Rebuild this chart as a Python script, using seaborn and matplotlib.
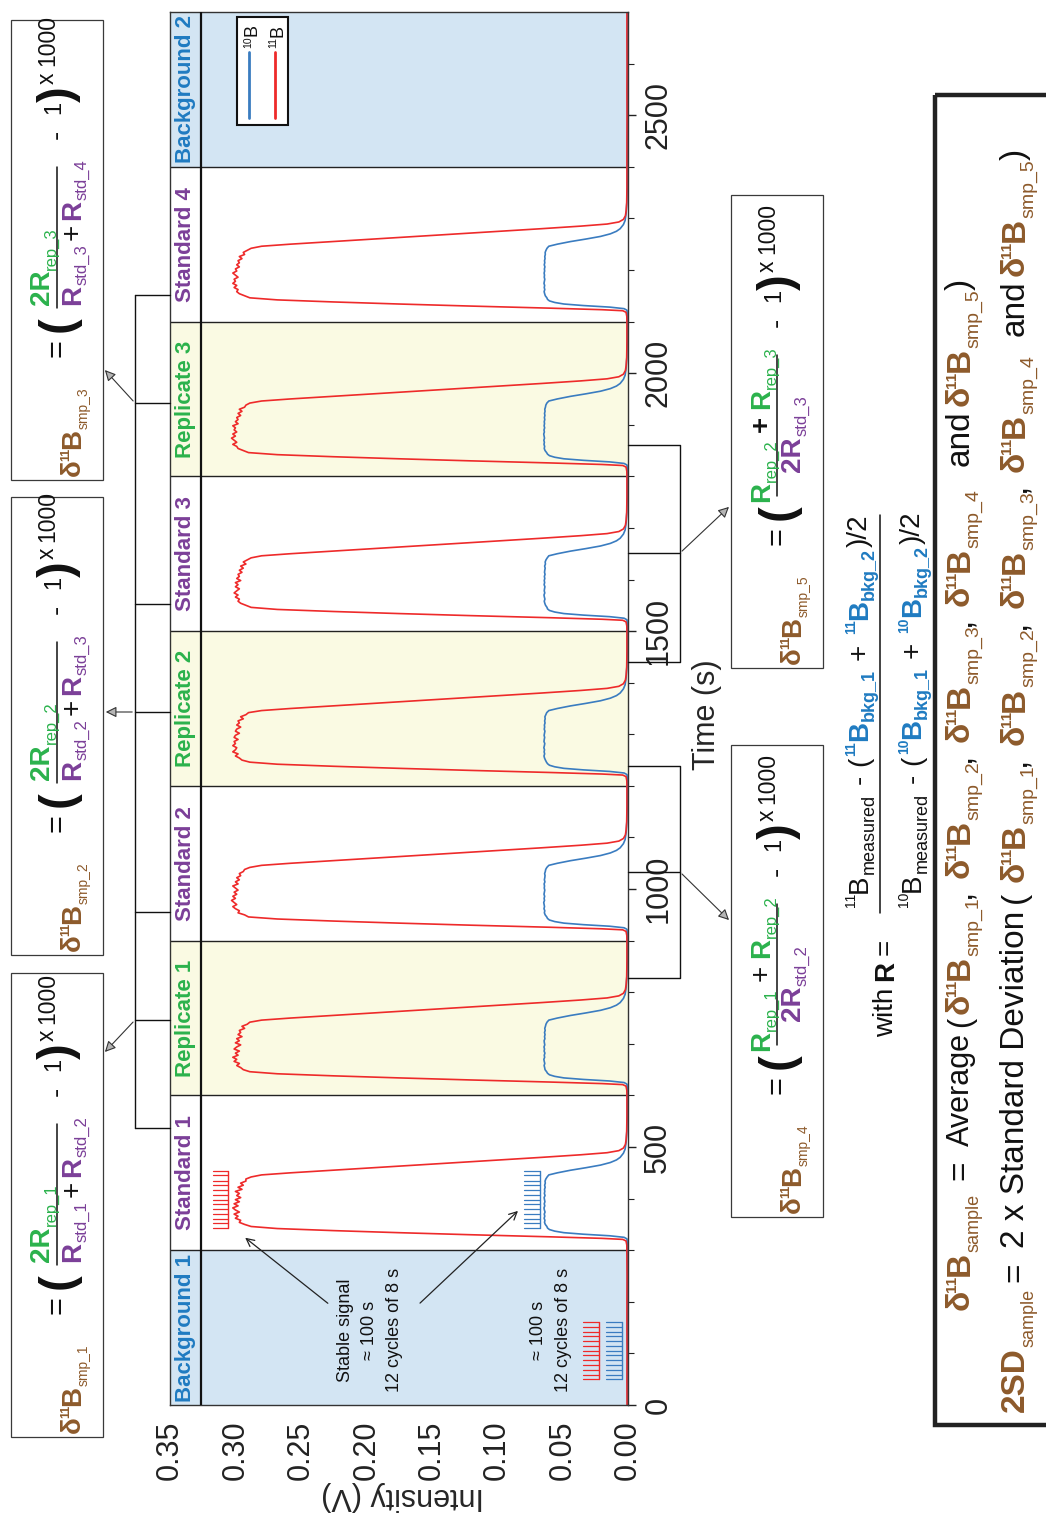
import numpy as np
import pandas as pd
import matplotlib
matplotlib.use('Agg')
import matplotlib.pyplot as plt
import seaborn as sns
from matplotlib.font_manager import FontProperties
from matplotlib.patches import Rectangle

# ---------------- data ----------------
segment_names = ['Background 1', 'Standard 1', 'Replicate 1', 'Standard 2', 'Replicate 2',
                 'Standard 3', 'Replicate 3', 'Standard 4', 'Background 2']
segment_starts = [0, 300, 600, 900, 1200, 1500, 1800, 2100, 2400]
segment_length = 300

# time offsets (s) inside a measurement segment
rise_t_red = [0, 10, 18, 21, 23, 26, 30, 34, 38, 42]
rise_v_red = [0.0008, 0.0009, 0.0015, 0.004, 0.02, 0.06, 0.12, 0.175, 0.225, 0.268]
fall_t_red = [146, 150, 155, 160, 165, 170, 175, 180, 185, 189, 193, 198, 205, 215, 230, 260]
fall_v_red = [0.280, 0.258, 0.226, 0.194, 0.162, 0.130, 0.098, 0.066, 0.036, 0.016, 0.007,
              0.0035, 0.002, 0.0014, 0.001, 0.0008]
rise_t_blue = [0, 10, 22, 25, 28, 31, 34, 37, 40, 43]
rise_v_blue = [0.0005, 0.0005, 0.0008, 0.003, 0.014, 0.034, 0.049, 0.056, 0.060, 0.0615]
fall_t_blue = [146, 150, 155, 160, 165, 170, 175, 180, 188, 196, 210, 230, 260]
fall_v_blue = [0.0605, 0.054, 0.044, 0.032, 0.021, 0.0135, 0.0088, 0.006, 0.0035, 0.0022,
               0.0014, 0.0009, 0.0006]
plateau_t = [46, 50, 54, 58, 62, 66, 70, 74, 78, 82, 86, 90, 94, 98, 102, 106, 110, 114,
             118, 122, 126, 130, 134, 138, 142]

red_plateau = {
    'Standard 1': [0.288, 0.293, 0.297, 0.296, 0.300, 0.298, 0.301, 0.297, 0.300, 0.302, 0.298, 0.301, 0.297,
                   0.300, 0.296, 0.299, 0.297, 0.300, 0.295, 0.298, 0.294, 0.296, 0.292, 0.292, 0.288],
    'Replicate 1': [0.289, 0.294, 0.296, 0.299, 0.297, 0.301, 0.299, 0.302, 0.298, 0.300, 0.297, 0.301, 0.299,
                    0.296, 0.300, 0.297, 0.299, 0.295, 0.298, 0.296, 0.297, 0.293, 0.295, 0.291, 0.289],
    'Standard 2': [0.290, 0.293, 0.298, 0.297, 0.300, 0.302, 0.299, 0.301, 0.303, 0.300, 0.302, 0.299, 0.301,
                   0.298, 0.300, 0.302, 0.298, 0.300, 0.297, 0.299, 0.296, 0.297, 0.294, 0.293, 0.289],
    'Replicate 2': [0.289, 0.295, 0.297, 0.300, 0.298, 0.302, 0.300, 0.299, 0.302, 0.300, 0.301, 0.298, 0.301,
                    0.300, 0.297, 0.300, 0.299, 0.296, 0.299, 0.297, 0.298, 0.294, 0.296, 0.292, 0.290],
    'Standard 3': [0.288, 0.292, 0.296, 0.298, 0.297, 0.300, 0.298, 0.301, 0.299, 0.297, 0.300, 0.298, 0.300,
                   0.296, 0.299, 0.297, 0.298, 0.295, 0.297, 0.294, 0.296, 0.292, 0.294, 0.291, 0.288],
    'Replicate 3': [0.290, 0.294, 0.298, 0.299, 0.302, 0.299, 0.301, 0.303, 0.300, 0.302, 0.299, 0.301, 0.300,
                    0.302, 0.298, 0.300, 0.298, 0.299, 0.296, 0.298, 0.295, 0.297, 0.293, 0.292, 0.289],
    'Standard 4': [0.289, 0.293, 0.297, 0.299, 0.298, 0.301, 0.299, 0.302, 0.300, 0.301, 0.298, 0.300, 0.302,
                   0.299, 0.300, 0.297, 0.299, 0.297, 0.298, 0.295, 0.297, 0.293, 0.294, 0.291, 0.288],
}
blue_plateau = {
    'Standard 1': [0.0620, 0.0632, 0.0638, 0.0635, 0.0641, 0.0636, 0.0640, 0.0634, 0.0639, 0.0642, 0.0636, 0.0640,
                   0.0635, 0.0638, 0.0641, 0.0634, 0.0639, 0.0636, 0.0638, 0.0633, 0.0637, 0.0632, 0.0634, 0.0628, 0.0618],
    'Replicate 1': [0.0622, 0.0634, 0.0637, 0.0641, 0.0636, 0.0640, 0.0643, 0.0637, 0.0640, 0.0635, 0.0641, 0.0638,
                    0.0642, 0.0636, 0.0639, 0.0641, 0.0635, 0.0638, 0.0634, 0.0638, 0.0633, 0.0636, 0.0631, 0.0627, 0.0619],
    'Standard 2': [0.0621, 0.0633, 0.0639, 0.0636, 0.0642, 0.0638, 0.0641, 0.0644, 0.0638, 0.0641, 0.0637, 0.0642,
                   0.0639, 0.0636, 0.0640, 0.0638, 0.0641, 0.0635, 0.0639, 0.0636, 0.0634, 0.0637, 0.0632, 0.0629, 0.0620],
    'Replicate 2': [0.0623, 0.0631, 0.0638, 0.0642, 0.0637, 0.0641, 0.0638, 0.0643, 0.0639, 0.0636, 0.0642, 0.0640,
                    0.0637, 0.0641, 0.0638, 0.0635, 0.0640, 0.0637, 0.0639, 0.0634, 0.0637, 0.0633, 0.0635, 0.0628, 0.0621],
    'Standard 3': [0.0619, 0.0630, 0.0636, 0.0640, 0.0635, 0.0639, 0.0642, 0.0636, 0.0640, 0.0638, 0.0635, 0.0641,
                   0.0637, 0.0640, 0.0636, 0.0639, 0.0634, 0.0638, 0.0636, 0.0633, 0.0637, 0.0631, 0.0633, 0.0627, 0.0617],
    'Replicate 3': [0.0622, 0.0634, 0.0640, 0.0637, 0.0642, 0.0639, 0.0643, 0.0638, 0.0641, 0.0644, 0.0639, 0.0642,
                    0.0637, 0.0641, 0.0638, 0.0640, 0.0636, 0.0639, 0.0635, 0.0638, 0.0634, 0.0636, 0.0631, 0.0628, 0.0620],
    'Standard 4': [0.0620, 0.0632, 0.0637, 0.0641, 0.0636, 0.0640, 0.0637, 0.0642, 0.0639, 0.0636, 0.0640, 0.0638,
                   0.0641, 0.0637, 0.0639, 0.0635, 0.0640, 0.0636, 0.0638, 0.0634, 0.0636, 0.0632, 0.0633, 0.0627, 0.0619],
}
bkg_t = [0, 50, 100, 150, 200, 250, 300]
bkg_red = {'Background 1': [0.0007, 0.0008, 0.0007, 0.0008, 0.0008, 0.0007, 0.0008],
           'Background 2': [0.0008, 0.0008, 0.0007, 0.0008, 0.0007, 0.0008, 0.0008]}
bkg_blue = {'Background 1': [0.0004, 0.0005, 0.0004, 0.0005, 0.0004, 0.0005, 0.0005],
            'Background 2': [0.0005, 0.0004, 0.0005, 0.0004, 0.0005, 0.0005, 0.0004]}

# 12 integration cycles drawn as combs (tooth offsets in s)
comb_teeth = [0, 9, 18, 28, 37, 46, 55, 65, 74, 83, 92, 102, 111]

intensity_ticks = [0.00, 0.05, 0.10, 0.15, 0.20, 0.25, 0.30, 0.35]
time_ticks = [0, 500, 1000, 1500, 2000, 2500]

# ---------------- colours ----------------
BROWN = '#8d5a2b'
GREEN = '#2bb24c'
PURPLE = '#7b3f98'
BLUE_T = '#1f7bc1'
RED_L = '#ee2a2a'
BLUE_L = '#3a7cc0'
BKG_FILL = '#d3e5f3'
REP_FILL = '#fafae3'
INK = '#111111'
FONT = ['Liberation Sans', 'DejaVu Sans']

# ---------------- build table ----------------
rows = []
for name, s in zip(segment_names, segment_starts):
    if name.startswith('Background'):
        for t, r, b in zip(bkg_t, bkg_red[name], bkg_blue[name]):
            rows.append((s + t, r, '11B'))
            rows.append((s + t, b, '10B'))
    else:
        tr = rise_t_red + plateau_t + fall_t_red
        vr = rise_v_red + red_plateau[name] + fall_v_red
        tb = rise_t_blue + plateau_t + fall_t_blue
        vb = rise_v_blue + blue_plateau[name] + fall_v_blue
        for t, v in zip(tr, vr):
            rows.append((s + t, v, '11B'))
        for t, v in zip(tb, vb):
            rows.append((s + t, v, '10B'))
df = pd.DataFrame(rows, columns=['time', 'intensity', 'isotope'])
df = df.sort_values(['isotope', 'time'], kind='stable').reset_index(drop=True)

# ---------------- figure ----------------
sns.set_style('white')
plt.rcParams['font.family'] = FONT
plt.rcParams['axes.linewidth'] = 1.0

W, H = 1046, 1519
fig = plt.figure(figsize=(W / 100, H / 100), dpi=100)
fig.patch.set_facecolor('white')
ax = fig.add_axes([170 / W, 1 - 1405 / H, 458 / W, 1393 / H])

label_col = 0.3263
for name, s in zip(segment_names, segment_starts):
    if name.startswith('Background'):
        fill, col = BKG_FILL, BLUE_T
    elif name.startswith('Replicate'):
        fill, col = REP_FILL, GREEN
    else:
        fill, col = 'white', PURPLE
    ax.axhspan(s, s + segment_length, color=fill, lw=0, zorder=0)
    ax.text((0.35 + label_col) / 2, s + segment_length / 2, name, rotation=90, ha='center',
            va='center', color=col, fontsize=16, fontweight='bold', zorder=4)
for s in segment_starts[1:]:
    ax.axhline(s, color='#222222', lw=1.0, zorder=1)
ax.axvline(label_col, color='#111111', lw=1.6, zorder=3)

sns.lineplot(data=df, x='intensity', y='time', hue='isotope', hue_order=['10B', '11B'],
             palette={'10B': BLUE_L, '11B': RED_L}, sort=False, estimator=None, orient='y',
             legend=False, lw=1.2, ax=ax, zorder=2)

combs = [(343, 0.3056, 0.3171, RED_L), (343, 0.0672, 0.0795, BLUE_L),
         (50, 0.0222, 0.0344, RED_L), (50, 0.0046, 0.0168, BLUE_L)]
for t0, lo, hi, c in combs:
    ax.plot([lo, lo], [t0 + comb_teeth[0], t0 + comb_teeth[-1]], color=c, lw=1.0, zorder=3)
    for d in comb_teeth:
        ax.plot([lo, hi], [t0 + d, t0 + d], color=c, lw=0.9, zorder=3)

ax.set_xlim(0.35, 0.0)
ax.set_ylim(0, 2700)
ax.set_xticks(intensity_ticks)
ax.set_xticklabels(['%.2f' % v for v in intensity_ticks], rotation=90)
ax.yaxis.tick_right()
ax.set_yticks(time_ticks)
ax.set_yticklabels([str(t) for t in time_ticks], rotation=90, va='center')
ax.set_yticks([t for t in range(100, 2700, 100) if t % 500], minor=True)
ax.tick_params(axis='x', direction='out', length=6, width=1, labelsize=22, pad=5, colors='#222222')
ax.tick_params(axis='y', which='major', direction='out', length=6, width=1, labelsize=22, pad=5,
               colors='#222222')
ax.tick_params(axis='y', which='minor', direction='out', length=4, width=0.8, colors='#222222')
for sp in ax.spines.values():
    sp.set_color('#333333')
    sp.set_linewidth(1.0)
    sp.set_visible(True)
ax.set_xlabel('Intensity (V)', fontsize=22, rotation=180)
ax.xaxis.set_label_coords((403 - 170) / 458, -(1481 - 1405) / 1393)
ax.set_ylabel('Time (s)', fontsize=22)
ax.yaxis.set_label_position('right')
ax.yaxis.set_label_coords((692 - 170) / 458, (1405 - 715) / 1393)

# ---------------- overlay (pixel coordinates) ----------------
ov = fig.add_axes([0, 0, 1, 1], zorder=10)
ov.set_xlim(0, W)
ov.set_ylim(H, 0)
ov.axis('off')
ov.patch.set_alpha(0)
R = fig.canvas.get_renderer()


def fp(size, bold=False):
    return FontProperties(family=FONT, size=size, weight='bold' if bold else 'normal')


def seq(x0, y0, parts):
    y = y0
    for p in parts:
        if p[0] is None:
            y -= p[1]
            continue
        text, size, color, bold, shift = p
        f = fp(size, bold)
        ov.text(x0 - shift, y, text, fontproperties=f, color=color, rotation=90,
                rotation_mode='anchor', ha='left', va='baseline', zorder=12)
        w, _, _ = R.get_text_width_height_descent(text, f, ismath=False)
        y -= w
    return y


def ctext(x, y, text, size, bold=False, color=INK):
    ov.text(x, y, text, fontproperties=fp(size, bold), color=color, rotation=90,
            rotation_mode='anchor', ha='center', va='center', zorder=12)


def d11B(sub, main, subsz, supsz, color=BROWN):
    px = main * 100 / 72
    return [('δ', main, color, True, 0), (None, -2), ('11', supsz, color, True, 0.40 * px),
            (None, -1), ('B', main, color, True, 0), (sub, subsz, color, False, -0.28 * px)]


SUB = 6.5


def R_(sub, color, prefix='R'):
    return [(prefix, 20, color, True, 0), (sub, 12, color, False, -SUB)]


PLUS = [(None, 4), ('+', 20, INK, False, 0), (None, 4)]
PLUS_W = [(None, 7), ('+', 20, INK, False, 0), (None, 7)]


def formula_box(bx, yb, yt, k, num_parts, num_start, den_parts, den_start):
    ov.add_patch(Rectangle((bx, yt), 92, yb - yt, fill=False, ec='#3a3a3a', lw=0.9, zorder=11))
    seq(bx + 69, yb - 4, d11B('smp_%d' % k, 20, 10, 9))
    ctext(bx + 46, yb - 132, '=', 22)
    ctext(bx + 48, yb - 156, '(', 34, bold=True)
    ov.plot([bx + 46, bx + 46], [yb - 172, yb - 313], color=INK, lw=1.1, zorder=11)
    seq(bx + 38, yb - num_start, num_parts)
    seq(bx + 69, yb - den_start, den_parts)
    ctext(bx + 46, yb - 346, '-', 20)
    seq(bx + 49, yb - 366, [('1', 17, INK, False, 0)])
    ctext(bx + 48, yb - 386, ')', 34, bold=True)
    seq(bx + 43, yb - 396, [('x', 16.5, INK, False, 0), (None, 6), ('1000', 16.5, INK, False, 0)])


formula_box(11, 1437, 973, 1, R_('rep_1', GREEN, '2R'), 175,
            R_('std_1', PURPLE) + PLUS + R_('std_2', PURPLE), 175)
formula_box(11, 955, 497, 2, R_('rep_2', GREEN, '2R'), 175,
            R_('std_2', PURPLE) + PLUS + R_('std_3', PURPLE), 175)
formula_box(11, 480, 20, 3, R_('rep_3', GREEN, '2R'), 175,
            R_('std_3', PURPLE) + PLUS + R_('std_4', PURPLE), 175)
formula_box(731, 1217, 745, 4, R_('rep_1', GREEN) + PLUS_W + R_('rep_2', GREEN), 166,
            R_('std_2', PURPLE, '2R'), 196)
formula_box(731, 668, 195, 5, R_('rep_2', GREEN) + [(None, 7), ('+', 20, INK, True, 0), (None, 7)]
            + R_('rep_3', GREEN), 166, R_('std_3', PURPLE, '2R'), 196)

# brackets (left)
for y in [1128, 1020, 912, 712, 604, 403, 295]:
    ov.plot([135, 170], [y, y], color=INK, lw=1.0, zorder=11)
ov.plot([135, 135], [295, 1128], color=INK, lw=1.0, zorder=11)
arrow_kw = dict(arrowstyle='-|>', mutation_scale=16, lw=0.8, fc='#b5b5b5', ec='#333333')
ov.annotate('', xy=(103, 1054), xytext=(135, 1020), arrowprops=arrow_kw, zorder=11)
ov.annotate('', xy=(103, 712), xytext=(135, 712), arrowprops=arrow_kw, zorder=11)
ov.annotate('', xy=(103, 368), xytext=(135, 403), arrowprops=arrow_kw, zorder=11)
# brackets (right)
for ya, yb_, ym in [(978, 766, 872), (662, 445, 553)]:
    ov.plot([628, 680, 680, 628], [ya, ya, yb_, yb_], color=INK, lw=1.0, zorder=11)
    ov.plot([628, 680], [ym, ym], color=INK, lw=1.0, zorder=11)
ov.annotate('', xy=(731, 922), xytext=(680, 872), arrowprops=arrow_kw, zorder=11)
ov.annotate('', xy=(731, 505), xytext=(680, 553), arrowprops=arrow_kw, zorder=11)

# annotations inside the plot
ov.text(370, 1330, 'Stable signal\n≈ 100 s\n12 cycles of 8 s', rotation=90, ha='center',
        va='center', multialignment='center', fontproperties=fp(13), linespacing=1.6,
        color=INK, zorder=12)
ov.text(551, 1330, '≈ 100 s\n12 cycles of 8 s', rotation=90, ha='center', va='center',
        multialignment='center', fontproperties=fp(13), linespacing=1.6, color=INK, zorder=12)
thin = dict(arrowstyle='->', color='#222222', lw=0.9, mutation_scale=14)
ov.annotate('', xy=(243, 1236), xytext=(330, 1305), arrowprops=thin, zorder=12)
ov.annotate('', xy=(520, 1209), xytext=(418, 1305), arrowprops=thin, zorder=12)

# legend
ov.add_patch(Rectangle((237, 17), 51, 108, facecolor='white', ec='#111111', lw=1.5, zorder=11))
ov.plot([249, 249], [52, 118], color=BLUE_L, lw=2, zorder=12)
ov.plot([275, 275], [52, 118], color=RED_L, lw=2, zorder=12)
seq(257, 48, [('10', 7.5, INK, False, 6), ('B', 13, INK, False, 0)])
seq(282, 48, [('11', 7.5, INK, False, 6), ('B', 13, INK, False, 0)])

# definition of R
seq(893, 1037, [('with', 20, INK, False, 0), (None, 7), ('R', 20, INK, True, 0), (None, 6),
                ('=', 20, INK, False, 0)])
ov.plot([880, 880], [913, 515], color=INK, lw=1.1, zorder=11)


def iso(mass, color, bold, sub):
    return [(mass, 10, color, bold, 0.42 * 27.8), ('B', 20, color, bold, 0), (sub, 13, color, bold, -7)]


def ratio_row(m):
    return (iso(m, INK, False, 'measured') + [(None, 10), ('-', 20, INK, False, 0), (None, 9),
            ('(', 20, INK, False, 0), (None, 1)] + iso(m, BLUE_T, True, 'bkg_1')
            + [(None, 9), ('+', 20, INK, False, 0), (None, 9)] + iso(m, BLUE_T, True, 'bkg_2')
            + [(None, 1), (')/2', 20, INK, False, 0)])


seq(867, 907, ratio_row('11'))
seq(920, 907, ratio_row('10'))

# summary box
ov.add_patch(Rectangle((935, 95), 140, 1330, fill=False, ec='#222222', lw=3.2, zorder=11))
L1, L2 = 969, 1024
seq(L1, 1310, d11B('sample', 24, 13, 11))
seq(L1, 1180, [('=', 24, INK, False, 0)])
seq(L1, 1146, [('Average', 22, INK, False, 0), (None, 6), ('(', 22, INK, False, 0)])
for st, k in zip([1014, 878, 742], [1, 2, 3]):
    seq(L1, st, d11B('smp_%d' % k, 24, 14, 11) + [(',', 24, INK, False, 0)])
seq(L1, 606, d11B('smp_4', 24, 14, 11))
seq(L1, 466, [('and', 24, INK, False, 0)])
seq(L1, 406, d11B('smp_5', 24, 14, 11) + [(')', 24, INK, False, 0)])

seq(L2, 1412, [('2SD', 24, BROWN, True, 0), ('sample', 13, BROWN, False, -0.28 * 33.3)])
seq(L2, 1282, [('=', 24, INK, False, 0)])
seq(L2, 1248, [('2 x Standard Deviation', 24, INK, False, 0), (None, 8), ('(', 24, INK, False, 0)])
for st, k in zip([882, 745, 608], [1, 2, 3]):
    seq(L2, st, d11B('smp_%d' % k, 24, 14, 11) + [(',', 24, INK, False, 0)])
seq(L2, 472, d11B('smp_4', 24, 14, 11))
seq(L2, 336, [('and', 24, INK, False, 0)])
seq(L2, 276, d11B('smp_5', 24, 14, 11) + [(')', 24, INK, False, 0)])

ov.set_xlim(0, W)
ov.set_ylim(H, 0)
fig.savefig('out.png', dpi=100, facecolor='white')
